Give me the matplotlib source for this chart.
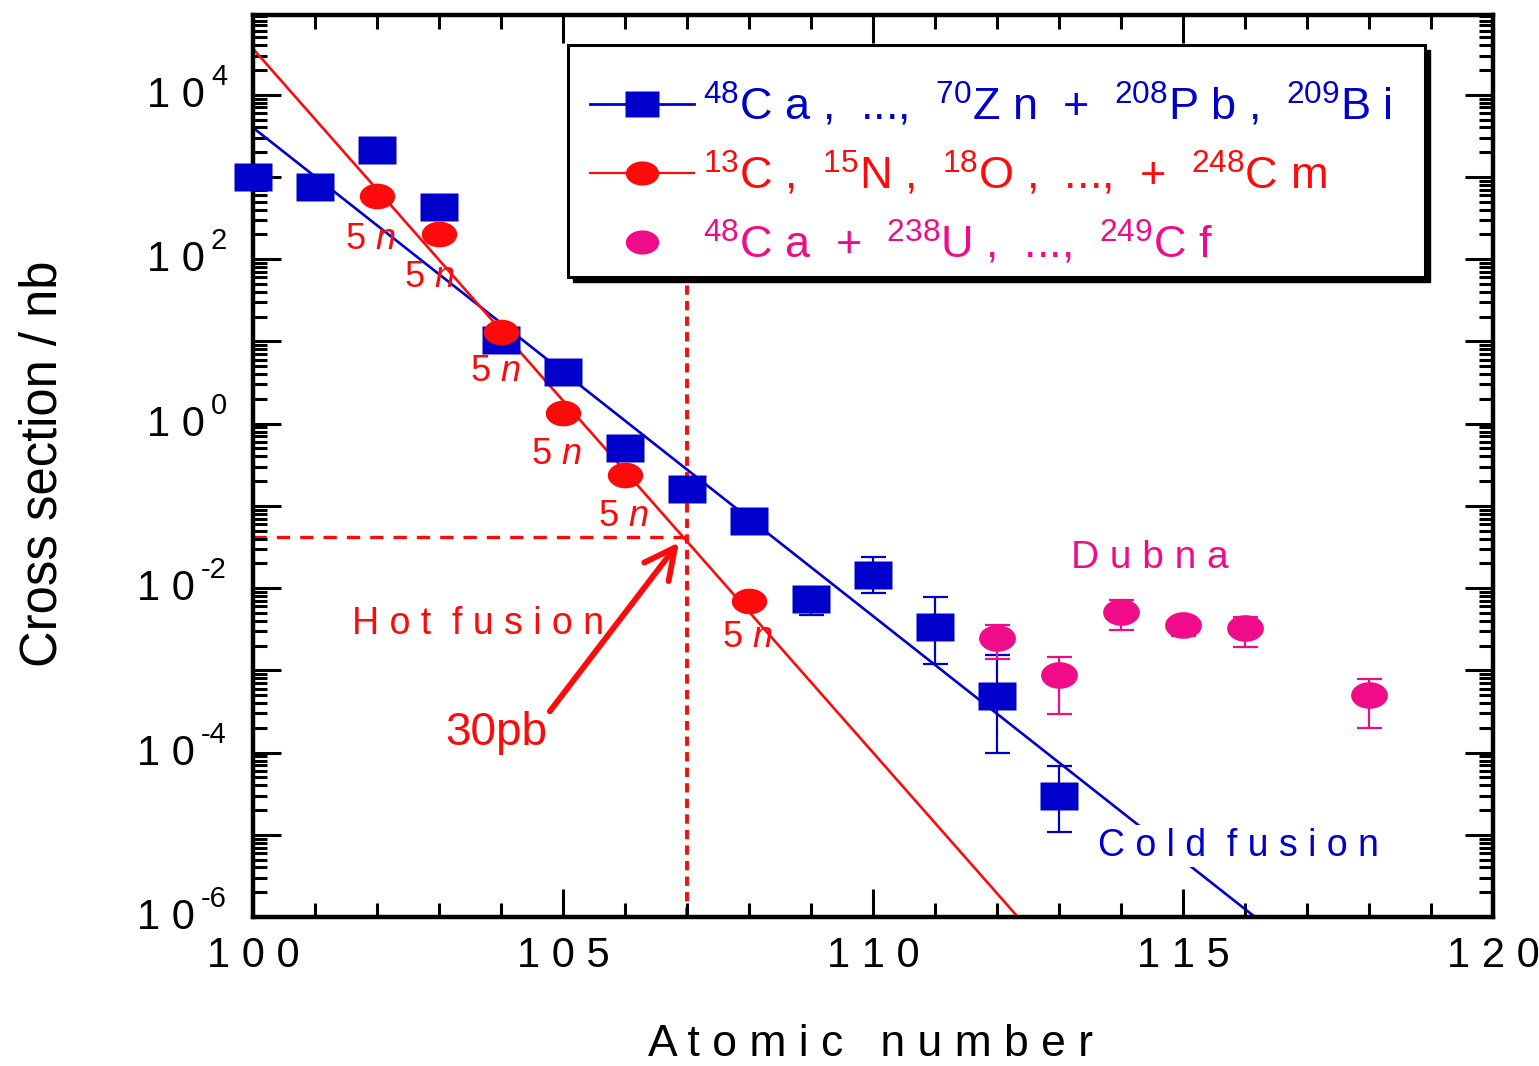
import numpy as np
import matplotlib
matplotlib.use("Agg")
import matplotlib.pyplot as plt
import matplotlib.transforms as mtransforms
from matplotlib.lines import Line2D
from matplotlib.patches import Rectangle
from matplotlib.ticker import FixedLocator, LogLocator, NullFormatter, MultipleLocator

plt.rcParams['font.family'] = ['Liberation Sans', 'DejaVu Sans']
plt.rcParams['mathtext.fontset'] = 'custom'
plt.rcParams['mathtext.rm'] = 'Liberation Sans'
plt.rcParams['mathtext.it'] = 'Liberation Sans:italic'

BLUE = '#0000CC'
RED = '#FF0A0A'
PINK = '#F00C88'

# cold fusion (48Ca ... 70Zn + 208Pb, 209Bi)
cold_z = [100, 101, 102, 103, 104, 105, 106, 107, 108, 109, 110, 111, 112, 113]
cold_sigma = [1000, 760, 2100, 435, 10.5, 4.3, 0.50, 0.16, 0.065,
              0.0074, 0.0145, 0.0034, 0.00049, 3.0e-5]
cold_err_z = [109, 110, 111, 112, 113]
cold_err_val = [0.0074, 0.0145, 0.0034, 0.00049, 3.0e-5]
cold_err_lo = [0.0047, 0.0087, 0.0012, 1.0e-4, 1.07e-5]
cold_err_hi = [0.0085, 0.024, 0.0078, 0.00155, 6.9e-5]

# hot fusion (13C, 15N, 18O ... + 248Cm), 5n channel
hot_z = [102, 103, 104, 105, 106, 108]
hot_sigma = [590, 205, 13, 1.35, 0.24, 0.0069]

# Dubna 48Ca + 238U ... 249Cf
dubna_z = [112, 113, 114, 115, 116, 118]
dubna_sigma = [0.00245, 0.00087, 0.0051, 0.0036, 0.0033, 0.0005]
dubna_lo = [0.00138, 0.000295, 0.0031, 0.0026, 0.0019, 0.0002]
dubna_hi = [0.00355, 0.00145, 0.0072, 0.0042, 0.0045, 0.00079]

# exponential systematics: log10(sigma) = a + b*(Z-100)
cold_fit = (3.60, -0.594)
hot_fit = (4.56, -0.856)

# "5n" labels
label_5n_z = [101.89, 102.85, 103.9, 104.89, 105.97, 107.98]
label_5n_y = [172, 59.4, 4.26, 0.417, 0.0734, 0.00248]

limit_z = 107
limit_sigma = 0.042

x_ticks = [100, 105, 110, 115, 120]
x_ticklabels = ['1 0 0', '1 0 5', '1 1 0', '1 1 5', '1 2 0']
y_label_exps = [4, 2, 0, -2, -4, -6]

W, H = 1539, 1066
fig = plt.figure(figsize=(W/100, H/100), dpi=100)
ax = fig.add_axes([253/W, 1-917/H, (1493-253)/W, (917-15)/H])
ax.set_yscale('log')
ax.set_xlim(100, 120)
ax.set_ylim(1e-6, 10**4.97)

rect = [(-1.35, -1), (1.35, -1), (1.35, 1), (-1.35, 1), (-1.35, -1)]
t = np.linspace(0, 2*np.pi, 60)
ellipse = list(zip(1.38*np.cos(t), np.sin(t)))

# fit lines
zz = np.linspace(100, 120, 200)
ax.plot(zz, 10**(cold_fit[0] + cold_fit[1]*(zz-100)), color=BLUE, lw=1.9, zorder=2)
ax.plot(zz, 10**(hot_fit[0] + hot_fit[1]*(zz-100)), color=RED, lw=1.9, zorder=2)

# guide lines for 30 pb
ax.plot([100, limit_z], [limit_sigma, limit_sigma], color=RED, lw=2.4,
        dashes=(4, 3), zorder=1)
ax.plot([limit_z, limit_z], [1e-6, 62], color=RED, lw=2.8,
        dashes=(2.4, 1.6), zorder=1)

# error bars
ax.errorbar(cold_err_z, cold_err_val,
            yerr=[np.array(cold_err_val)-np.array(cold_err_lo),
                  np.array(cold_err_hi)-np.array(cold_err_val)],
            fmt='none', ecolor=BLUE, elinewidth=1.6, capsize=9, capthick=1.6, zorder=3)
ax.errorbar(dubna_z, dubna_sigma,
            yerr=[np.array(dubna_sigma)-np.array(dubna_lo),
                  np.array(dubna_hi)-np.array(dubna_sigma)],
            fmt='none', ecolor=PINK, elinewidth=1.6, capsize=9, capthick=1.6, zorder=3)

# markers
ax.plot(cold_z, cold_sigma, ls='none', marker=rect, ms=27, mfc=BLUE, mec='none',
        zorder=4, clip_on=False)
ax.plot(hot_z, hot_sigma, ls='none', marker=ellipse, ms=25.5, mfc=RED, mec='none', zorder=5)
ax.plot(dubna_z, dubna_sigma, ls='none', marker=ellipse, ms=26.5, mfc=PINK, mec='none', zorder=4)

for z, s in zip(label_5n_z, label_5n_y):
    ax.text(z, s, r'5 $\mathit{n}$', color=RED, fontsize=26, ha='center', va='center', zorder=6)

ax.text(103.63, 3.66e-3, 'H o t  f u s i o n', color=RED, fontsize=27, ha='center', va='center')
ax.text(115.89, 7.3e-6, 'C o l d  f u s i o n', color=BLUE, fontsize=27, ha='center',
        va='center', bbox=dict(facecolor='white', edgecolor='none', pad=2), zorder=3)
ax.text(114.47, 0.0234, 'D u b n a', color=PINK, fontsize=28, ha='center', va='center')
ax.annotate('30pb', xy=(106.87, 0.036), xytext=(103.92, 1.75e-4), color=RED, fontsize=33,
            ha='center', va='center',
            arrowprops=dict(arrowstyle='->', color=RED, lw=4.2, mutation_scale=55,
                            shrinkA=0, shrinkB=0, relpos=(1.0, 0.9)))

# ticks
ax.yaxis.set_major_locator(FixedLocator([10.0**k for k in range(-6, 5)]))
ax.yaxis.set_major_formatter(NullFormatter())
ax.yaxis.set_minor_locator(LogLocator(base=10, subs=np.arange(2, 10), numticks=40))
ax.yaxis.set_minor_formatter(NullFormatter())
ax.xaxis.set_minor_locator(MultipleLocator(1))
ax.set_xticks(x_ticks)
ax.set_xticklabels(x_ticklabels)

ax.tick_params(which='both', direction='in', top=True, right=True, width=2.2)
ax.tick_params(which='major', length=20)
ax.tick_params(which='minor', length=10)
ax.tick_params(axis='x', which='major', pad=14, labelsize=30)
for sp in ax.spines.values():
    sp.set_linewidth(3.2)

# y tick labels "1 0" with a large superscript exponent
renderer = fig.canvas.get_renderer()
ytrans = ax.get_yaxis_transform()
x_right = (227 - 253) / 1240
for k in y_label_exps:
    sup = ax.text(x_right, 10.0**k, str(k), fontsize=21, ha='right', va='baseline',
                  transform=mtransforms.offset_copy(ytrans, fig=fig, x=0, y=10, units='dots'))
    w = sup.get_window_extent(renderer).width
    ax.text(x_right, 10.0**k, '1 0', fontsize=30, ha='right', va='baseline',
            transform=mtransforms.offset_copy(ytrans, fig=fig, x=-(w + 6), y=-12, units='dots'))

ax.set_xlabel('A t o m i c   n u m b e r', fontsize=32)
ax.xaxis.set_label_coords(0.4976, -0.119)
ax.set_ylabel('Cross section / nb', fontsize=36.5)
ax.yaxis.set_label_coords(-0.150, 0.503)

# legend box with black drop shadow
box_x0, box_y0, box_x1, box_y1 = 568, 45, 1425, 277
fig.patches.append(Rectangle(((box_x0 + 5)/W, 1 - (box_y1 + 5)/H),
                             (box_x1 - box_x0)/W, (box_y1 - box_y0)/H,
                             transform=fig.transFigure, facecolor='black',
                             edgecolor='black', zorder=1))
fig.patches.append(Rectangle((box_x0/W, 1 - box_y1/H),
                             (box_x1 - box_x0)/W, (box_y1 - box_y0)/H,
                             transform=fig.transFigure, facecolor='white',
                             edgecolor='black', lw=2.2, zorder=1.1))

h1 = Line2D([], [], color=BLUE, lw=2, marker=rect, ms=25, mfc=BLUE, mec='none')
h2 = Line2D([], [], color=RED, lw=1.6, marker=ellipse, ms=24, mfc=RED, mec='none')
h3 = Line2D([], [], color=PINK, ls='none', marker=ellipse, ms=24, mfc=PINK, mec='none')
labels = [r'$^{48}$C a ,  ...,  $^{70}$Z n  +  $^{208}$P b ,  $^{209}$B i',
          r'$^{13}$C ,  $^{15}$N ,  $^{18}$O ,  ...,  +  $^{248}$C m',
          r'$^{48}$C a  +  $^{238}$U ,  ...,  $^{249}$C f']
leg = fig.legend([h1, h2, h3], labels, loc='upper left',
                 bbox_to_anchor=(590/W, 1 - 81/H), borderaxespad=0, borderpad=0,
                 fontsize=32.5, handlelength=2.3, handletextpad=0.2,
                 labelspacing=0.46, frameon=False,
                 labelcolor=[BLUE, RED, PINK])
leg.set_zorder(5)

fig.savefig('out.png', dpi=100)
